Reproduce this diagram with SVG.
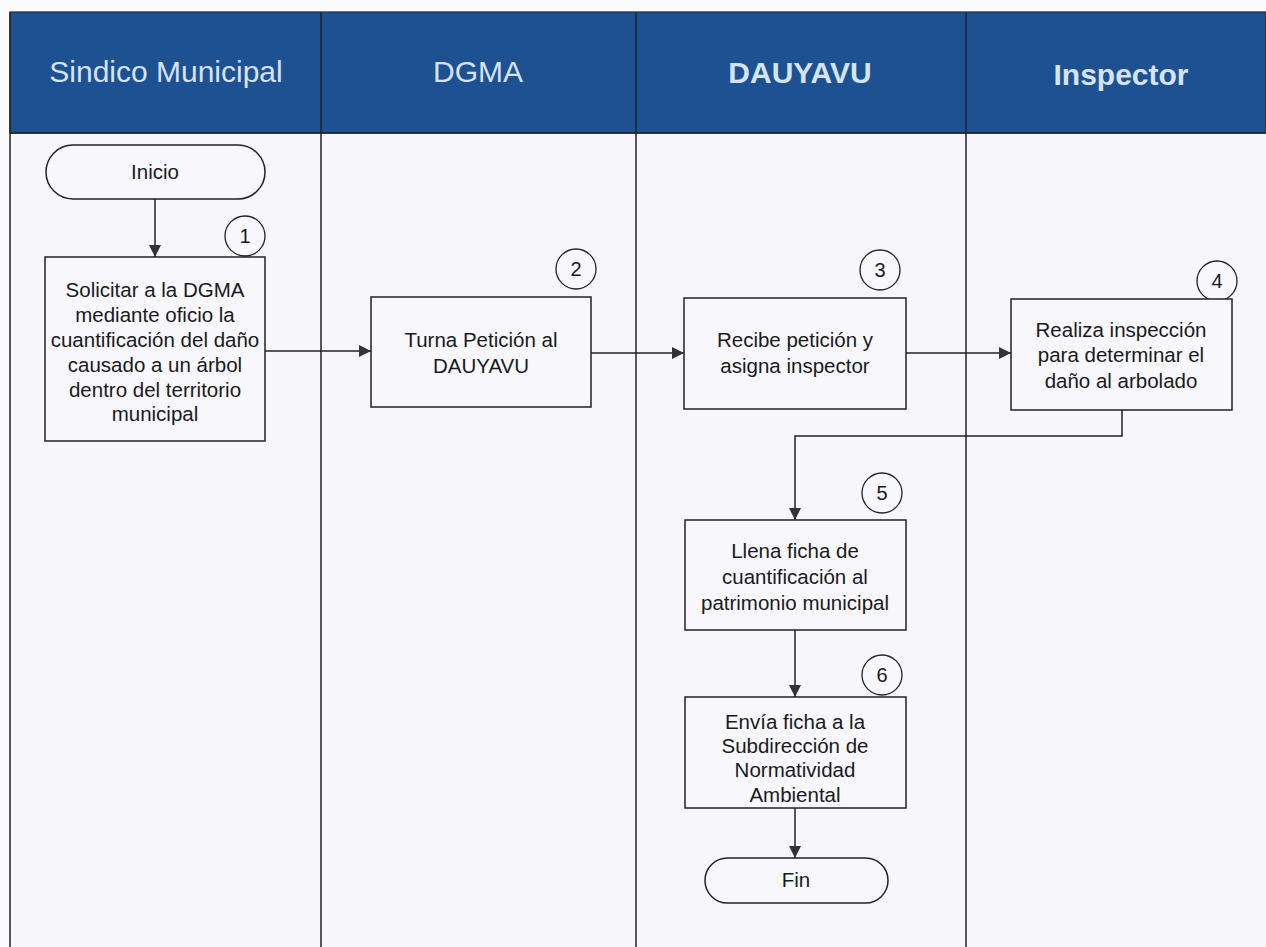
<svg xmlns="http://www.w3.org/2000/svg" width="1266" height="947" viewBox="0 0 1266 947">
<style>
.hdr{fill:#d6e3f4;font-family:"Liberation Sans",Arial,sans-serif;font-size:30px;text-anchor:middle}
.b{font-weight:bold}
.box{fill:#f7f7fc;stroke:#222;stroke-width:1.5}
.t{fill:#1a1a1a;font-family:"Liberation Sans",Arial,sans-serif;font-size:20.5px;text-anchor:middle}
.num{fill:#1a1a1a;font-family:"Liberation Sans",Arial,sans-serif;font-size:20px;text-anchor:middle}
.c{fill:#f7f7fc;stroke:#222;stroke-width:1.3}
.ln{fill:none;stroke:#222;stroke-width:1.5}
.lane{stroke:#222;stroke-width:1.5}
</style>
<defs>
<marker id="ah" viewBox="0 0 12 12" refX="12" refY="6" markerWidth="12" markerHeight="12" markerUnits="userSpaceOnUse" orient="auto">
<path d="M0,0 L12,6 L0,12 z" fill="#333"/>
</marker>
</defs>
<rect x="0" y="0" width="1266" height="947" fill="#fbfbfd"/>
<rect x="10" y="133" width="1256" height="814" fill="#f6f6fb"/>
<g id="lanes">
<rect x="10" y="12" width="1256" height="121" fill="#1e5191" stroke="#1a2a40" stroke-width="1.2"/>
<line class="lane" x1="10" y1="12" x2="10" y2="947"/>
<line class="lane" x1="321" y1="12" x2="321" y2="947"/>
<line class="lane" x1="636" y1="12" x2="636" y2="947"/>
<line class="lane" x1="966" y1="12" x2="966" y2="947"/>
<line class="lane" x1="10" y1="133" x2="1266" y2="133"/>
<text class="hdr" x="166" y="82">Sindico Municipal</text>
<text class="hdr" x="478" y="82">DGMA</text>
<text class="hdr b" x="800" y="83">DAUYAVU</text>
<text class="hdr b" x="1121" y="85">Inspector</text>
</g>
<g id="connectors">
<line class="ln" x1="155" y1="199" x2="155" y2="257" marker-end="url(#ah)"/>
<line class="ln" x1="265" y1="351" x2="371" y2="351" marker-end="url(#ah)"/>
<line class="ln" x1="591" y1="353" x2="684" y2="353" marker-end="url(#ah)"/>
<line class="ln" x1="906" y1="353" x2="1011" y2="353" marker-end="url(#ah)"/>
<polyline class="ln" points="1122,410 1122,436 795,436 795,520" marker-end="url(#ah)"/>
<line class="ln" x1="795" y1="630" x2="795" y2="697" marker-end="url(#ah)"/>
<line class="ln" x1="795" y1="808" x2="795" y2="858" marker-end="url(#ah)"/>
</g>
<g id="inicio">
<rect class="box" x="46" y="145" width="219" height="54" rx="27"/>
<text class="t" x="155" y="179">Inicio</text>
</g>
<g id="step1">
<circle class="c" cx="245" cy="236" r="20"/>
<text class="num" x="245" y="243">1</text>
<rect class="box" x="45" y="257" width="220" height="184"/>
<text class="t" x="155" y="297">Solicitar a la DGMA</text>
<text class="t" x="155" y="322">mediante oficio la</text>
<text class="t" x="155" y="347">cuantificación del daño</text>
<text class="t" x="155" y="372">causado a un árbol</text>
<text class="t" x="155" y="397">dentro del territorio</text>
<text class="t" x="155" y="421">municipal</text>
</g>
<g id="step2">
<circle class="c" cx="576" cy="269" r="20"/>
<text class="num" x="576" y="276">2</text>
<rect class="box" x="371" y="297" width="220" height="110"/>
<text class="t" x="481" y="347">Turna Petición al</text>
<text class="t" x="481" y="373">DAUYAVU</text>
</g>
<g id="step3">
<circle class="c" cx="880" cy="270" r="20"/>
<text class="num" x="880" y="277">3</text>
<rect class="box" x="684" y="298" width="222" height="111"/>
<text class="t" x="795" y="347">Recibe petición y</text>
<text class="t" x="795" y="373">asigna inspector</text>
</g>
<g id="step4">
<circle class="c" cx="1217" cy="281" r="20"/>
<text class="num" x="1217" y="288">4</text>
<rect class="box" x="1011" y="299" width="221" height="111"/>
<text class="t" x="1121" y="337">Realiza inspección</text>
<text class="t" x="1121" y="362">para determinar el</text>
<text class="t" x="1121" y="388">daño al arbolado</text>
</g>
<g id="step5">
<circle class="c" cx="882" cy="493" r="20"/>
<text class="num" x="882" y="500">5</text>
<rect class="box" x="685" y="520" width="221" height="110"/>
<text class="t" x="795" y="558">Llena ficha de</text>
<text class="t" x="795" y="584">cuantificación al</text>
<text class="t" x="795" y="610">patrimonio municipal</text>
</g>
<g id="step6">
<circle class="c" cx="882" cy="675" r="20"/>
<text class="num" x="882" y="682">6</text>
<rect class="box" x="685" y="697" width="221" height="111"/>
<text class="t" x="795" y="729">Envía ficha a la</text>
<text class="t" x="795" y="753">Subdirección de</text>
<text class="t" x="795" y="777">Normatividad</text>
<text class="t" x="795" y="802">Ambiental</text>
</g>
<g id="fin">
<rect class="box" x="705" y="858" width="183" height="45" rx="22.5"/>
<text class="t" x="796" y="887">Fin</text>
</g>
</svg>
